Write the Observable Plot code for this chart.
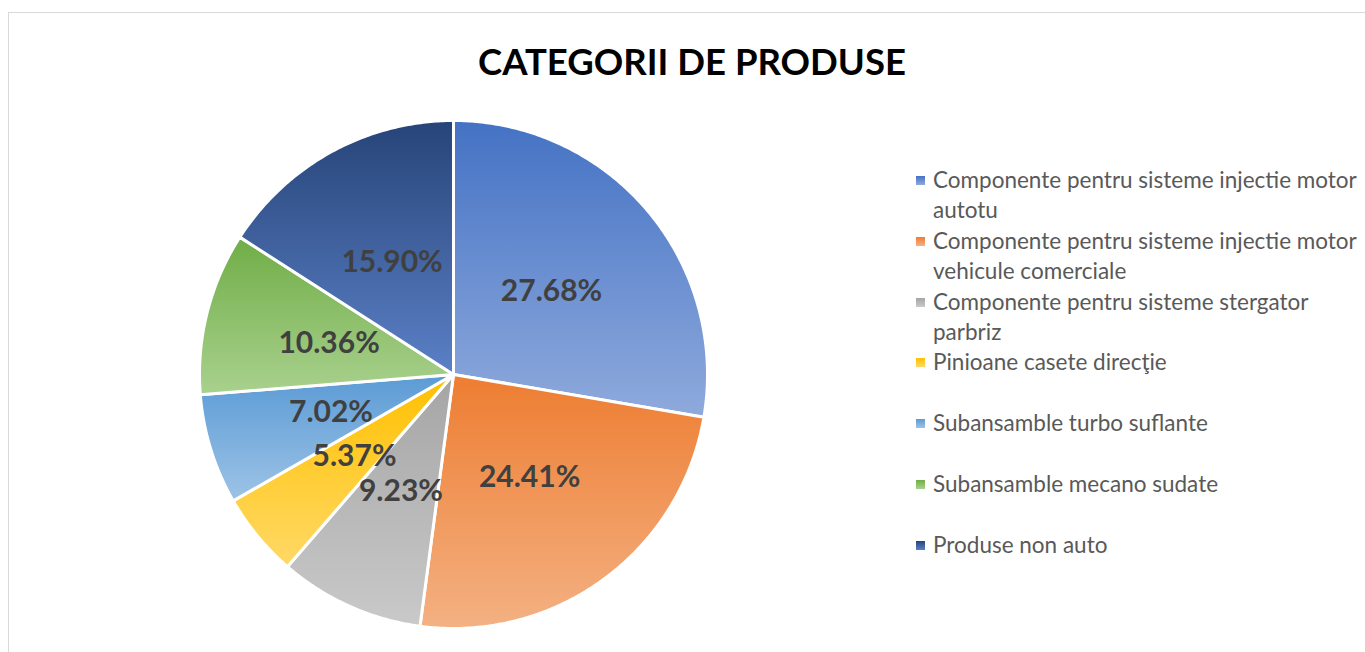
<!DOCTYPE html>
<html><head><meta charset="utf-8">
<script src="https://cdn.jsdelivr.net/npm/d3@7"></script>
<script src="https://cdn.jsdelivr.net/npm/@observablehq/plot@0.6"></script>
<style>
body{margin:0;width:1365px;height:652px;overflow:hidden;background:#fff;font-family:Lato,sans-serif;position:relative}
#frame{position:absolute;left:8px;top:12px;width:1400px;height:700px;border:1.5px solid #d9d9d9;box-sizing:border-box}
#title{position:absolute;left:14px;width:1356px;top:37px;text-align:center;font-weight:700;font-size:36.5px;line-height:48px;color:#000}
#chart{position:absolute;left:183px;top:104px}
#legend{position:absolute;left:916px;top:0}
.item{position:absolute;left:0;width:449px;display:flex;font-size:22.5px;line-height:30px;color:#595959}
.sw{width:9px;height:9px;margin-top:11px;margin-right:8px;flex:none}
</style></head><body>
<div id="frame"></div>
<div id="title"></div>
<div id="chart"></div>
<div id="legend"></div>
<script>
const title = "CATEGORII DE PRODUSE";
const categories = [
  "Componente pentru sisteme injectie motor autotu",
  "Componente pentru sisteme injectie motor vehicule comerciale",
  "Componente pentru sisteme stergator parbriz",
  "Pinioane casete direcţie",
  "Subansamble turbo suflante",
  "Subansamble mecano sudate",
  "Produse non auto"
];
const values = [27.68, 24.41, 9.23, 5.37, 7.02, 10.36, 15.90];
const labels = ["27.68%", "24.41%", "9.23%", "5.37%", "7.02%", "10.36%", "15.90%"];
const topColors = ["#4472C4", "#ED7D31", "#A5A5A5", "#FFC000", "#5B9BD5", "#70AD47", "#264478"];
const bottomColors = ["#8FAADC", "#F4B183", "#C9C9C9", "#FFD966", "#9DC3E6", "#A9D18E", "#5B80C6"];

document.getElementById("title").textContent = title;

const arcs = d3.pie().sort(null).value(d => d)(values);
const slices = arcs.map((a, i) => {
  const pts = [{x: 0, y: 0}];
  const n = Math.max(8, Math.ceil((a.endAngle - a.startAngle) / 0.01));
  for (let k = 0; k <= n; k++) {
    const t = a.startAngle + (a.endAngle - a.startAngle) * k / n;
    pts.push({x: Math.sin(t), y: Math.cos(t)});
  }
  return pts;
});
const labelPts = arcs.map((a, i) => {
  const m = (a.startAngle + a.endAngle) / 2;
  return {x: 0.505 * Math.sin(m), y: 0.505 * Math.cos(m), label: labels[i]};
});

const defsMark = () => {
  const defs = d3.create("svg:defs");
  topColors.forEach((c, i) => {
    const g = defs.append("linearGradient").attr("id", "g" + i)
      .attr("x1", 0).attr("y1", 0).attr("x2", 0).attr("y2", 1);
    g.append("stop").attr("offset", "0%").attr("stop-color", c);
    g.append("stop").attr("offset", "100%").attr("stop-color", bottomColors[i]);
  });
  return defs.node();
};

const D = 270 / 254;
const chart = Plot.plot({
  width: 540, height: 540, margin: 0,
  x: {domain: [-D, D], axis: null},
  y: {domain: [-D, D], axis: null},
  style: {background: "transparent"},
  marks: [
    defsMark,
    ...slices.map((pts, i) => Plot.line(pts, {
      x: "x", y: "y", fill: `url(#g${i})`, stroke: "white", strokeWidth: 3,
      strokeLinejoin: "round", curve: "linear-closed"
    })),
    Plot.text(labelPts, {
      x: "x", y: "y", text: "label", fill: "#404040",
      fontSize: 30, fontWeight: 700, fontFamily: "Lato, sans-serif"
    })
  ]
});
document.getElementById("chart").appendChild(chart);

const legend = document.getElementById("legend");
categories.forEach((c, i) => {
  const it = document.createElement("div");
  it.className = "item";
  it.style.top = (165 + i * 60.8) + "px";
  const sw = document.createElement("div");
  sw.className = "sw";
  sw.style.background = `linear-gradient(${topColors[i]}, ${bottomColors[i]})`;
  const tx = document.createElement("div");
  tx.textContent = c;
  it.appendChild(sw); it.appendChild(tx);
  legend.appendChild(it);
});
</script>
</body></html>
